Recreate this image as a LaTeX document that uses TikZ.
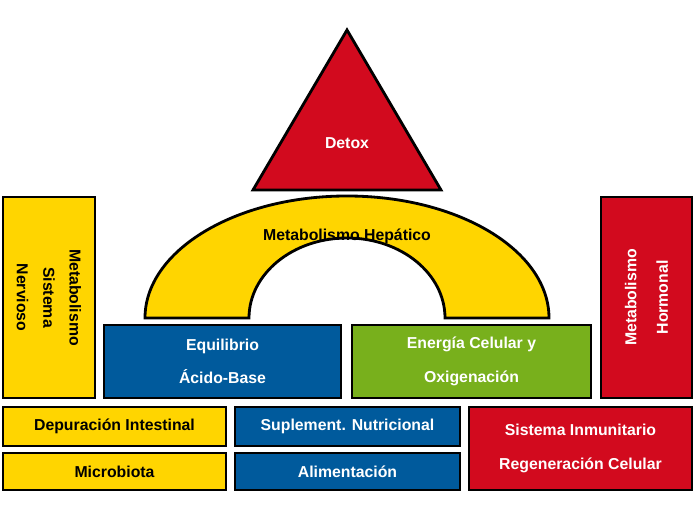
\documentclass[tikz,border=0pt]{standalone}
\usepackage{fontspec}
\setmainfont{Liberation Sans}
\usetikzlibrary{positioning}
\definecolor{amarillo}{HTML}{FFD500}
\definecolor{rojo}{HTML}{D20A1E}
\definecolor{azul}{HTML}{005A9C}
\definecolor{verde}{HTML}{78B01C}
\tikzset{
	x=0.02cm, y=0.02cm, % Un pixel de la imagen
	caja/.style={draw=black, line width=1.6pt, rectangle, inner sep=0pt, font=\bfseries\small, align=center}, % Cajas
	amar/.style={caja, fill=amarillo, text=black}, % Caja amarilla
	roja/.style={caja, fill=rojo, text=white}, % Caja roja
	azul/.style={caja, fill=azul, text=white}, % Caja azul
	verd/.style={caja, fill=verde, text=white} % Caja verde
}
\begin{document}
\begin{tikzpicture}
				\useasboundingbox (0,0) rectangle (696,523);
				% Triangulo
				\draw[roja] (347,493) -- (441,333) -- (253,333) -- cycle;
				\node[text=white, font=\bfseries\small] (detox) at (347,380) {Detox};
				% Arco
				\draw[amar] (145,205) arc[start angle=180, end angle=0, x radius=202, y radius=122]
					-- (445,205) arc[start angle=0, end angle=180, x radius=98, y radius=80] -- cycle;
				\node[font=\bfseries\small] (hepatico) at (347,287) {Metabolismo Hepático};
				% Columnas
				\node[amar, minimum width=1.84cm, minimum height=4.02cm] (nervioso) at (49,225.5) {};
				\node[rotate=-90, font=\bfseries\small, align=center] at (nervioso) {Metabolismo\\[4pt]Sistema\\[4pt]Nervioso};
				\node[roja, minimum width=1.82cm, minimum height=4.02cm] (hormonal) at (646.5,225.5) {};
				\node[rotate=90, text=white, font=\bfseries\small, align=center] at (hormonal) {Metabolismo\\[7pt]Hormonal};
				% Base del arco
				\node[azul, minimum width=4.74cm, minimum height=1.46cm] (acido) at (222.5,161.5) {Equilibrio\\[8pt]Ácido-Base};
				\node[verd, minimum width=4.78cm, minimum height=1.46cm] (energia) at (471.5,161.5) {Energía Celular y\\[8pt]Oxigenación};
				% Fila inferior
				\node[amar, minimum width=4.46cm, minimum height=0.78cm] (depuracion) at (114.5,96.5) {Depuración Intestinal};
				\node[amar, minimum width=4.46cm, minimum height=0.74cm] (microbiota) at (114.5,51.5) {Microbiota};
				\node[azul, minimum width=4.5cm, minimum height=0.78cm] (suplemento) at (347.5,96.5) {Suplement. Nutricional};
				\node[azul, minimum width=4.5cm, minimum height=0.74cm] (alimentacion) at (347.5,51.5) {Alimentación};
				\node[roja, minimum width=4.46cm, minimum height=1.66cm] (inmunitario) at (580.5,74.5) {Sistema Inmunitario\\[8pt]Regeneración Celular};
			\end{tikzpicture}
\end{document}
